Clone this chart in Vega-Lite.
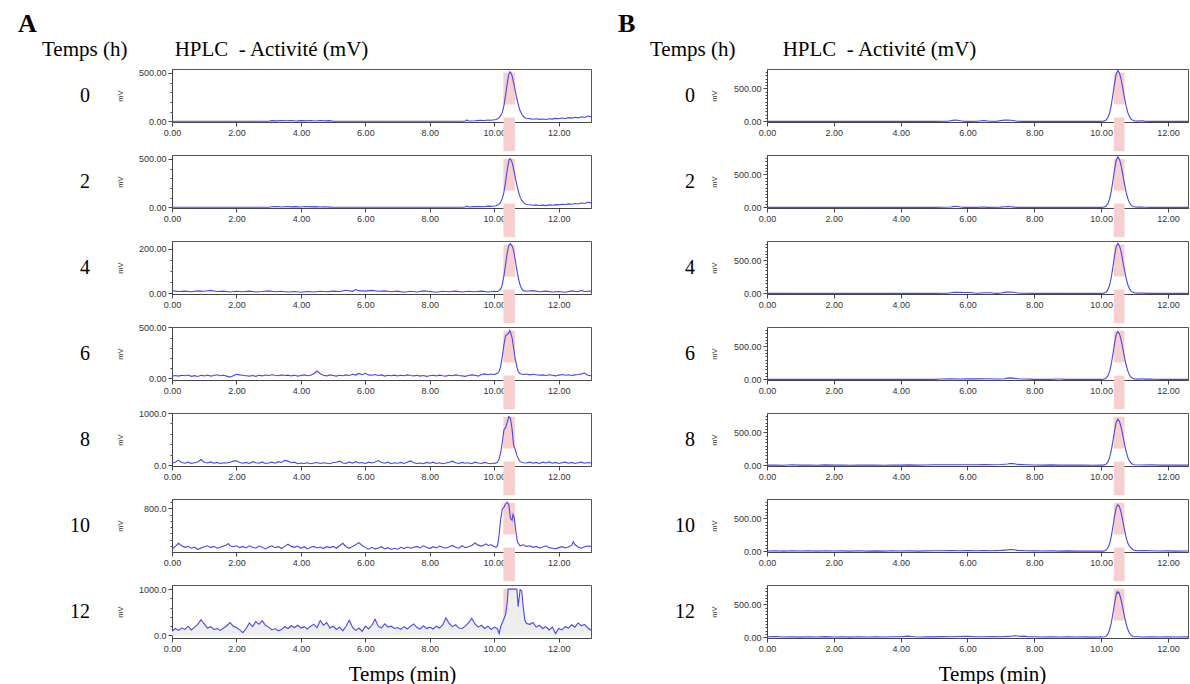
{
"$schema": "https://vega.github.io/schema/vega-lite/v6.json",
"background": "white",
"padding": {"left": 18, "top": 10, "right": 0, "bottom": 0},
"autosize": {"type": "pad"},
"config": {
 "view": {"stroke": "#555555", "strokeWidth": 1},
 "axis": {"labelFont": "Liberation Sans", "labelFontSize": 9, "labelColor": "#333333", "tickColor": "#444444", "domainColor": "#444444", "grid": false, "labelFlush": false, "labelBound": false, "labelPadding": 2, "titleFont": "Liberation Sans", "titleFontSize": 7.5, "titleFontWeight": "normal", "titleColor": "#333333"}
},
"datasets": {
 "bandA": [{"start": 10.28, "end": 10.64}],
 "bandB": [{"start": 10.38, "end": 10.70}],
 "A0": [{"t":0,"mv":0},{"t":0.5,"mv":0},{"t":1,"mv":0},{"t":1.5,"mv":0},{"t":2,"mv":0},{"t":2.5,"mv":0},{"t":3,"mv":0},{"t":3.1,"mv":7},{"t":3.25,"mv":5},{"t":3.4,"mv":9},{"t":3.55,"mv":6},{"t":3.7,"mv":8},{"t":3.85,"mv":3},{"t":4.0,"mv":7},{"t":4.15,"mv":5},{"t":4.3,"mv":9},{"t":4.45,"mv":4},{"t":4.6,"mv":8},{"t":4.75,"mv":5},{"t":4.9,"mv":7},{"t":5.0,"mv":1},{"t":5.5,"mv":0},{"t":6,"mv":0},{"t":6.5,"mv":0},{"t":7,"mv":0},{"t":7.5,"mv":0},{"t":8,"mv":0},{"t":8.5,"mv":0},{"t":9.0,"mv":0},{"t":9.1,"mv":3},{"t":9.15,"mv":14},{"t":9.2,"mv":4},{"t":9.4,"mv":6},{"t":9.55,"mv":10},{"t":9.7,"mv":8},{"t":9.8,"mv":14},{"t":9.9,"mv":11},{"t":10.0,"mv":16},{"t":10.05,"mv":18},{"t":10.1,"mv":26},{"t":10.15,"mv":38},{"t":10.2,"mv":58},{"t":10.25,"mv":95},{"t":10.3,"mv":165},{"t":10.35,"mv":270},{"t":10.4,"mv":390},{"t":10.45,"mv":485},{"t":10.48,"mv":512},{"t":10.52,"mv":498},{"t":10.56,"mv":460},{"t":10.6,"mv":400},{"t":10.65,"mv":315},{"t":10.7,"mv":235},{"t":10.75,"mv":165},{"t":10.8,"mv":110},{"t":10.85,"mv":75},{"t":10.9,"mv":52},{"t":10.95,"mv":38},{"t":11.0,"mv":32},{"t":11.1,"mv":28},{"t":11.2,"mv":22},{"t":11.3,"mv":26},{"t":11.4,"mv":20},{"t":11.5,"mv":24},{"t":11.6,"mv":19},{"t":11.7,"mv":26},{"t":11.8,"mv":23},{"t":11.9,"mv":30},{"t":12.0,"mv":26},{"t":12.1,"mv":34},{"t":12.2,"mv":30},{"t":12.3,"mv":38},{"t":12.4,"mv":33},{"t":12.5,"mv":42},{"t":12.6,"mv":36},{"t":12.7,"mv":47},{"t":12.8,"mv":40},{"t":12.9,"mv":54},{"t":13.0,"mv":48}],
 "A2": [{"t":0,"mv":0},{"t":0.5,"mv":0},{"t":1,"mv":0},{"t":1.5,"mv":0},{"t":2,"mv":0},{"t":2.5,"mv":0},{"t":3,"mv":0},{"t":3.1,"mv":6},{"t":3.25,"mv":8},{"t":3.4,"mv":4},{"t":3.55,"mv":9},{"t":3.7,"mv":5},{"t":3.85,"mv":7},{"t":4.0,"mv":3},{"t":4.15,"mv":8},{"t":4.3,"mv":5},{"t":4.45,"mv":7},{"t":4.6,"mv":3},{"t":4.75,"mv":6},{"t":4.9,"mv":2},{"t":5.0,"mv":0},{"t":5.5,"mv":0},{"t":6,"mv":0},{"t":6.5,"mv":0},{"t":7,"mv":0},{"t":7.5,"mv":0},{"t":8,"mv":0},{"t":8.5,"mv":0},{"t":9.0,"mv":0},{"t":9.1,"mv":4},{"t":9.15,"mv":12},{"t":9.2,"mv":3},{"t":9.4,"mv":7},{"t":9.55,"mv":9},{"t":9.7,"mv":6},{"t":9.8,"mv":12},{"t":9.9,"mv":10},{"t":10.0,"mv":14},{"t":10.05,"mv":17},{"t":10.1,"mv":24},{"t":10.15,"mv":35},{"t":10.2,"mv":55},{"t":10.25,"mv":92},{"t":10.3,"mv":160},{"t":10.35,"mv":265},{"t":10.4,"mv":385},{"t":10.45,"mv":480},{"t":10.48,"mv":506},{"t":10.52,"mv":492},{"t":10.56,"mv":455},{"t":10.6,"mv":395},{"t":10.65,"mv":310},{"t":10.7,"mv":230},{"t":10.75,"mv":160},{"t":10.8,"mv":108},{"t":10.85,"mv":72},{"t":10.9,"mv":50},{"t":10.95,"mv":36},{"t":11.0,"mv":30},{"t":11.1,"mv":26},{"t":11.2,"mv":21},{"t":11.3,"mv":25},{"t":11.4,"mv":19},{"t":11.5,"mv":23},{"t":11.6,"mv":18},{"t":11.7,"mv":25},{"t":11.8,"mv":22},{"t":11.9,"mv":28},{"t":12.0,"mv":25},{"t":12.1,"mv":32},{"t":12.2,"mv":29},{"t":12.3,"mv":36},{"t":12.4,"mv":32},{"t":12.5,"mv":40},{"t":12.6,"mv":35},{"t":12.7,"mv":45},{"t":12.8,"mv":39},{"t":12.9,"mv":52},{"t":13.0,"mv":46}],
 "A4": [{"t":0,"mv":12},{"t":0.2,"mv":8},{"t":0.4,"mv":10},{"t":0.6,"mv":7},{"t":0.8,"mv":11},{"t":1.0,"mv":9},{"t":1.2,"mv":13},{"t":1.4,"mv":8},{"t":1.6,"mv":10},{"t":1.8,"mv":6},{"t":2.0,"mv":9},{"t":2.2,"mv":7},{"t":2.4,"mv":10},{"t":2.6,"mv":6},{"t":2.8,"mv":8},{"t":3.0,"mv":11},{"t":3.2,"mv":7},{"t":3.4,"mv":9},{"t":3.6,"mv":6},{"t":3.8,"mv":8},{"t":4.0,"mv":5},{"t":4.2,"mv":8},{"t":4.4,"mv":6},{"t":4.6,"mv":9},{"t":4.8,"mv":7},{"t":5.0,"mv":10},{"t":5.2,"mv":8},{"t":5.4,"mv":14},{"t":5.6,"mv":9},{"t":5.7,"mv":17},{"t":5.8,"mv":12},{"t":6.0,"mv":10},{"t":6.2,"mv":13},{"t":6.4,"mv":9},{"t":6.6,"mv":11},{"t":6.8,"mv":7},{"t":7.0,"mv":10},{"t":7.2,"mv":5},{"t":7.4,"mv":9},{"t":7.6,"mv":6},{"t":7.8,"mv":11},{"t":8.0,"mv":8},{"t":8.2,"mv":5},{"t":8.4,"mv":9},{"t":8.6,"mv":7},{"t":8.8,"mv":10},{"t":9.0,"mv":6},{"t":9.2,"mv":9},{"t":9.4,"mv":7},{"t":9.6,"mv":10},{"t":9.8,"mv":6},{"t":10.0,"mv":9},{"t":10.1,"mv":8},{"t":10.15,"mv":12},{"t":10.2,"mv":20},{"t":10.25,"mv":40},{"t":10.3,"mv":80},{"t":10.35,"mv":130},{"t":10.4,"mv":180},{"t":10.45,"mv":215},{"t":10.5,"mv":222},{"t":10.55,"mv":212},{"t":10.6,"mv":190},{"t":10.65,"mv":150},{"t":10.7,"mv":105},{"t":10.75,"mv":65},{"t":10.8,"mv":38},{"t":10.85,"mv":20},{"t":10.9,"mv":12},{"t":11.0,"mv":9},{"t":11.2,"mv":12},{"t":11.4,"mv":7},{"t":11.6,"mv":10},{"t":11.8,"mv":6},{"t":12.0,"mv":8},{"t":12.2,"mv":5},{"t":12.4,"mv":11},{"t":12.6,"mv":7},{"t":12.7,"mv":13},{"t":12.8,"mv":8},{"t":13.0,"mv":10}],
 "A6": [{"t":0,"mv":20},{"t":0.1,"mv":28},{"t":0.2,"mv":22},{"t":0.3,"mv":30},{"t":0.4,"mv":25},{"t":0.5,"mv":33},{"t":0.6,"mv":20},{"t":0.7,"mv":27},{"t":0.8,"mv":18},{"t":0.9,"mv":30},{"t":1.0,"mv":24},{"t":1.1,"mv":32},{"t":1.2,"mv":22},{"t":1.3,"mv":28},{"t":1.4,"mv":35},{"t":1.5,"mv":26},{"t":1.6,"mv":30},{"t":1.7,"mv":22},{"t":1.8,"mv":12},{"t":1.9,"mv":25},{"t":2.0,"mv":40},{"t":2.1,"mv":34},{"t":2.2,"mv":30},{"t":2.3,"mv":26},{"t":2.4,"mv":22},{"t":2.5,"mv":28},{"t":2.6,"mv":20},{"t":2.7,"mv":30},{"t":2.8,"mv":24},{"t":2.9,"mv":33},{"t":3.0,"mv":28},{"t":3.1,"mv":36},{"t":3.2,"mv":30},{"t":3.3,"mv":26},{"t":3.4,"mv":34},{"t":3.5,"mv":28},{"t":3.6,"mv":32},{"t":3.7,"mv":24},{"t":3.8,"mv":30},{"t":3.9,"mv":22},{"t":4.0,"mv":28},{"t":4.1,"mv":34},{"t":4.2,"mv":26},{"t":4.3,"mv":30},{"t":4.4,"mv":45},{"t":4.5,"mv":72},{"t":4.6,"mv":45},{"t":4.7,"mv":30},{"t":4.8,"mv":24},{"t":4.9,"mv":34},{"t":5.0,"mv":28},{"t":5.1,"mv":22},{"t":5.2,"mv":30},{"t":5.3,"mv":26},{"t":5.4,"mv":34},{"t":5.5,"mv":28},{"t":5.6,"mv":40},{"t":5.7,"mv":32},{"t":5.8,"mv":48},{"t":5.9,"mv":36},{"t":6.0,"mv":50},{"t":6.1,"mv":34},{"t":6.2,"mv":30},{"t":6.3,"mv":38},{"t":6.4,"mv":28},{"t":6.5,"mv":34},{"t":6.6,"mv":22},{"t":6.7,"mv":30},{"t":6.8,"mv":26},{"t":6.9,"mv":32},{"t":7.0,"mv":24},{"t":7.1,"mv":30},{"t":7.2,"mv":26},{"t":7.3,"mv":34},{"t":7.4,"mv":28},{"t":7.5,"mv":24},{"t":7.6,"mv":30},{"t":7.7,"mv":22},{"t":7.8,"mv":28},{"t":7.9,"mv":20},{"t":8.0,"mv":26},{"t":8.1,"mv":30},{"t":8.2,"mv":24},{"t":8.3,"mv":32},{"t":8.4,"mv":26},{"t":8.5,"mv":22},{"t":8.6,"mv":30},{"t":8.7,"mv":26},{"t":8.8,"mv":34},{"t":8.9,"mv":28},{"t":9.0,"mv":24},{"t":9.1,"mv":20},{"t":9.2,"mv":28},{"t":9.3,"mv":34},{"t":9.4,"mv":30},{"t":9.5,"mv":22},{"t":9.6,"mv":38},{"t":9.7,"mv":44},{"t":9.8,"mv":36},{"t":9.9,"mv":42},{"t":10.0,"mv":38},{"t":10.05,"mv":44},{"t":10.1,"mv":50},{"t":10.15,"mv":70},{"t":10.2,"mv":120},{"t":10.25,"mv":220},{"t":10.3,"mv":330},{"t":10.35,"mv":420},{"t":10.4,"mv":430},{"t":10.45,"mv":445},{"t":10.48,"mv":470},{"t":10.5,"mv":455},{"t":10.55,"mv":400},{"t":10.6,"mv":300},{"t":10.65,"mv":190},{"t":10.7,"mv":110},{"t":10.75,"mv":60},{"t":10.8,"mv":45},{"t":10.9,"mv":38},{"t":11.0,"mv":42},{"t":11.1,"mv":34},{"t":11.2,"mv":40},{"t":11.3,"mv":36},{"t":11.4,"mv":30},{"t":11.5,"mv":34},{"t":11.6,"mv":28},{"t":11.7,"mv":36},{"t":11.8,"mv":30},{"t":11.9,"mv":24},{"t":12.0,"mv":32},{"t":12.1,"mv":38},{"t":12.2,"mv":30},{"t":12.3,"mv":36},{"t":12.4,"mv":28},{"t":12.5,"mv":34},{"t":12.6,"mv":38},{"t":12.7,"mv":44},{"t":12.8,"mv":52},{"t":12.9,"mv":30},{"t":13.0,"mv":26}],
 "A8": [{"t":0,"mv":45},{"t":0.1,"mv":60},{"t":0.2,"mv":100},{"t":0.3,"mv":55},{"t":0.4,"mv":40},{"t":0.5,"mv":60},{"t":0.6,"mv":35},{"t":0.7,"mv":50},{"t":0.8,"mv":65},{"t":0.9,"mv":110},{"t":1.0,"mv":60},{"t":1.1,"mv":45},{"t":1.2,"mv":65},{"t":1.3,"mv":40},{"t":1.4,"mv":55},{"t":1.5,"mv":35},{"t":1.6,"mv":50},{"t":1.7,"mv":45},{"t":1.8,"mv":60},{"t":1.9,"mv":80},{"t":2.0,"mv":85},{"t":2.1,"mv":55},{"t":2.2,"mv":40},{"t":2.3,"mv":55},{"t":2.4,"mv":35},{"t":2.5,"mv":70},{"t":2.6,"mv":50},{"t":2.7,"mv":40},{"t":2.8,"mv":65},{"t":2.9,"mv":35},{"t":3.0,"mv":45},{"t":3.1,"mv":60},{"t":3.2,"mv":40},{"t":3.3,"mv":70},{"t":3.4,"mv":55},{"t":3.5,"mv":95},{"t":3.6,"mv":80},{"t":3.7,"mv":50},{"t":3.8,"mv":60},{"t":3.9,"mv":30},{"t":4.0,"mv":45},{"t":4.1,"mv":35},{"t":4.2,"mv":50},{"t":4.3,"mv":30},{"t":4.4,"mv":45},{"t":4.5,"mv":55},{"t":4.6,"mv":35},{"t":4.7,"mv":50},{"t":4.8,"mv":40},{"t":4.9,"mv":30},{"t":5.0,"mv":55},{"t":5.1,"mv":60},{"t":5.2,"mv":80},{"t":5.3,"mv":45},{"t":5.4,"mv":35},{"t":5.5,"mv":65},{"t":5.6,"mv":40},{"t":5.7,"mv":70},{"t":5.8,"mv":45},{"t":5.9,"mv":55},{"t":6.0,"mv":35},{"t":6.1,"mv":60},{"t":6.2,"mv":45},{"t":6.3,"mv":65},{"t":6.4,"mv":90},{"t":6.5,"mv":55},{"t":6.6,"mv":40},{"t":6.7,"mv":60},{"t":6.8,"mv":30},{"t":6.9,"mv":50},{"t":7.0,"mv":40},{"t":7.1,"mv":55},{"t":7.2,"mv":35},{"t":7.3,"mv":60},{"t":7.4,"mv":85},{"t":7.5,"mv":50},{"t":7.6,"mv":35},{"t":7.7,"mv":45},{"t":7.8,"mv":30},{"t":7.9,"mv":55},{"t":8.0,"mv":40},{"t":8.1,"mv":60},{"t":8.2,"mv":35},{"t":8.3,"mv":50},{"t":8.4,"mv":30},{"t":8.5,"mv":45},{"t":8.6,"mv":60},{"t":8.7,"mv":80},{"t":8.8,"mv":50},{"t":8.9,"mv":35},{"t":9.0,"mv":55},{"t":9.1,"mv":40},{"t":9.2,"mv":50},{"t":9.3,"mv":30},{"t":9.4,"mv":60},{"t":9.5,"mv":45},{"t":9.6,"mv":35},{"t":9.7,"mv":55},{"t":9.8,"mv":40},{"t":9.9,"mv":30},{"t":10.0,"mv":45},{"t":10.05,"mv":40},{"t":10.1,"mv":60},{"t":10.15,"mv":120},{"t":10.2,"mv":250},{"t":10.25,"mv":450},{"t":10.3,"mv":680},{"t":10.35,"mv":720},{"t":10.4,"mv":820},{"t":10.45,"mv":930},{"t":10.5,"mv":900},{"t":10.55,"mv":700},{"t":10.6,"mv":380},{"t":10.65,"mv":300},{"t":10.7,"mv":190},{"t":10.75,"mv":120},{"t":10.8,"mv":70},{"t":10.9,"mv":50},{"t":11.0,"mv":45},{"t":11.1,"mv":60},{"t":11.2,"mv":40},{"t":11.3,"mv":55},{"t":11.4,"mv":35},{"t":11.5,"mv":60},{"t":11.6,"mv":45},{"t":11.7,"mv":65},{"t":11.8,"mv":40},{"t":11.9,"mv":55},{"t":12.0,"mv":35},{"t":12.1,"mv":50},{"t":12.2,"mv":60},{"t":12.3,"mv":40},{"t":12.4,"mv":55},{"t":12.5,"mv":35},{"t":12.6,"mv":50},{"t":12.7,"mv":60},{"t":12.8,"mv":40},{"t":12.9,"mv":55},{"t":13.0,"mv":45}],
 "A10": [{"t":0,"mv":140},{"t":0.1,"mv":190},{"t":0.2,"mv":240},{"t":0.3,"mv":200},{"t":0.4,"mv":175},{"t":0.5,"mv":190},{"t":0.6,"mv":160},{"t":0.7,"mv":180},{"t":0.8,"mv":140},{"t":0.9,"mv":165},{"t":1.0,"mv":185},{"t":1.1,"mv":200},{"t":1.2,"mv":170},{"t":1.3,"mv":190},{"t":1.4,"mv":160},{"t":1.5,"mv":175},{"t":1.6,"mv":195},{"t":1.7,"mv":215},{"t":1.75,"mv":235},{"t":1.8,"mv":200},{"t":1.9,"mv":185},{"t":2.0,"mv":200},{"t":2.1,"mv":170},{"t":2.2,"mv":190},{"t":2.3,"mv":165},{"t":2.4,"mv":200},{"t":2.5,"mv":175},{"t":2.6,"mv":160},{"t":2.7,"mv":195},{"t":2.8,"mv":175},{"t":2.9,"mv":150},{"t":3.0,"mv":180},{"t":3.1,"mv":200},{"t":3.2,"mv":170},{"t":3.3,"mv":185},{"t":3.4,"mv":160},{"t":3.5,"mv":190},{"t":3.6,"mv":225},{"t":3.7,"mv":190},{"t":3.8,"mv":175},{"t":3.9,"mv":195},{"t":4.0,"mv":160},{"t":4.1,"mv":185},{"t":4.2,"mv":150},{"t":4.3,"mv":175},{"t":4.4,"mv":190},{"t":4.5,"mv":165},{"t":4.6,"mv":180},{"t":4.7,"mv":155},{"t":4.8,"mv":185},{"t":4.9,"mv":170},{"t":5.0,"mv":190},{"t":5.1,"mv":160},{"t":5.2,"mv":200},{"t":5.3,"mv":240},{"t":5.4,"mv":185},{"t":5.5,"mv":160},{"t":5.6,"mv":190},{"t":5.7,"mv":215},{"t":5.8,"mv":250},{"t":5.9,"mv":205},{"t":6.0,"mv":170},{"t":6.1,"mv":145},{"t":6.2,"mv":175},{"t":6.3,"mv":150},{"t":6.4,"mv":165},{"t":6.5,"mv":185},{"t":6.6,"mv":150},{"t":6.7,"mv":170},{"t":6.8,"mv":140},{"t":6.9,"mv":160},{"t":7.0,"mv":145},{"t":7.1,"mv":175},{"t":7.2,"mv":155},{"t":7.3,"mv":180},{"t":7.4,"mv":160},{"t":7.5,"mv":175},{"t":7.6,"mv":190},{"t":7.7,"mv":165},{"t":7.8,"mv":200},{"t":7.9,"mv":175},{"t":8.0,"mv":155},{"t":8.1,"mv":185},{"t":8.2,"mv":165},{"t":8.3,"mv":195},{"t":8.4,"mv":175},{"t":8.5,"mv":160},{"t":8.6,"mv":185},{"t":8.7,"mv":205},{"t":8.8,"mv":175},{"t":8.9,"mv":160},{"t":9.0,"mv":200},{"t":9.1,"mv":170},{"t":9.2,"mv":185},{"t":9.3,"mv":205},{"t":9.4,"mv":245},{"t":9.5,"mv":210},{"t":9.6,"mv":195},{"t":9.7,"mv":215},{"t":9.75,"mv":230},{"t":9.8,"mv":205},{"t":9.9,"mv":215},{"t":10.0,"mv":190},{"t":10.05,"mv":175},{"t":10.1,"mv":200},{"t":10.15,"mv":380},{"t":10.2,"mv":640},{"t":10.25,"mv":790},{"t":10.3,"mv":820},{"t":10.35,"mv":870},{"t":10.4,"mv":900},{"t":10.45,"mv":860},{"t":10.5,"mv":640},{"t":10.55,"mv":610},{"t":10.58,"mv":700},{"t":10.62,"mv":650},{"t":10.67,"mv":420},{"t":10.72,"mv":260},{"t":10.8,"mv":200},{"t":10.9,"mv":215},{"t":11.0,"mv":190},{"t":11.1,"mv":200},{"t":11.2,"mv":175},{"t":11.3,"mv":190},{"t":11.4,"mv":165},{"t":11.5,"mv":180},{"t":11.6,"mv":200},{"t":11.7,"mv":170},{"t":11.8,"mv":160},{"t":11.9,"mv":150},{"t":12.0,"mv":170},{"t":12.1,"mv":185},{"t":12.2,"mv":165},{"t":12.3,"mv":180},{"t":12.4,"mv":210},{"t":12.45,"mv":265},{"t":12.5,"mv":220},{"t":12.6,"mv":180},{"t":12.7,"mv":160},{"t":12.8,"mv":185},{"t":12.9,"mv":195},{"t":13.0,"mv":190}],
 "A12": [{"t":0,"mv":90},{"t":0.1,"mv":150},{"t":0.2,"mv":110},{"t":0.3,"mv":160},{"t":0.4,"mv":130},{"t":0.5,"mv":200},{"t":0.6,"mv":120},{"t":0.7,"mv":180},{"t":0.8,"mv":240},{"t":0.9,"mv":340},{"t":1.0,"mv":250},{"t":1.1,"mv":160},{"t":1.2,"mv":190},{"t":1.3,"mv":130},{"t":1.4,"mv":150},{"t":1.5,"mv":110},{"t":1.6,"mv":160},{"t":1.7,"mv":210},{"t":1.8,"mv":280},{"t":1.9,"mv":200},{"t":2.0,"mv":170},{"t":2.1,"mv":120},{"t":2.2,"mv":60},{"t":2.3,"mv":150},{"t":2.4,"mv":270},{"t":2.5,"mv":190},{"t":2.6,"mv":300},{"t":2.7,"mv":240},{"t":2.8,"mv":320},{"t":2.9,"mv":220},{"t":3.0,"mv":180},{"t":3.1,"mv":120},{"t":3.2,"mv":150},{"t":3.3,"mv":100},{"t":3.4,"mv":130},{"t":3.5,"mv":190},{"t":3.6,"mv":150},{"t":3.7,"mv":210},{"t":3.8,"mv":170},{"t":3.9,"mv":220},{"t":4.0,"mv":160},{"t":4.1,"mv":190},{"t":4.2,"mv":140},{"t":4.3,"mv":200},{"t":4.4,"mv":240},{"t":4.5,"mv":170},{"t":4.6,"mv":320},{"t":4.7,"mv":220},{"t":4.8,"mv":280},{"t":4.9,"mv":160},{"t":5.0,"mv":200},{"t":5.1,"mv":130},{"t":5.2,"mv":180},{"t":5.3,"mv":100},{"t":5.4,"mv":200},{"t":5.5,"mv":330},{"t":5.6,"mv":180},{"t":5.7,"mv":110},{"t":5.8,"mv":160},{"t":5.9,"mv":90},{"t":6.0,"mv":200},{"t":6.1,"mv":140},{"t":6.2,"mv":220},{"t":6.3,"mv":350},{"t":6.4,"mv":200},{"t":6.5,"mv":160},{"t":6.6,"mv":250},{"t":6.7,"mv":180},{"t":6.8,"mv":200},{"t":6.9,"mv":150},{"t":7.0,"mv":170},{"t":7.1,"mv":130},{"t":7.2,"mv":190},{"t":7.3,"mv":140},{"t":7.4,"mv":200},{"t":7.5,"mv":250},{"t":7.6,"mv":170},{"t":7.7,"mv":140},{"t":7.8,"mv":210},{"t":7.9,"mv":150},{"t":8.0,"mv":180},{"t":8.1,"mv":140},{"t":8.2,"mv":200},{"t":8.3,"mv":160},{"t":8.4,"mv":230},{"t":8.5,"mv":380},{"t":8.6,"mv":260},{"t":8.7,"mv":190},{"t":8.8,"mv":230},{"t":8.9,"mv":160},{"t":9.0,"mv":150},{"t":9.1,"mv":200},{"t":9.2,"mv":270},{"t":9.3,"mv":370},{"t":9.4,"mv":250},{"t":9.5,"mv":180},{"t":9.6,"mv":220},{"t":9.7,"mv":150},{"t":9.8,"mv":200},{"t":9.9,"mv":130},{"t":10.0,"mv":180},{"t":10.1,"mv":140},{"t":10.15,"mv":40},{"t":10.2,"mv":200},{"t":10.25,"mv":280},{"t":10.3,"mv":360},{"t":10.35,"mv":450},{"t":10.4,"mv":700},{"t":10.43,"mv":1000},{"t":10.5,"mv":1000},{"t":10.6,"mv":1000},{"t":10.7,"mv":1000},{"t":10.74,"mv":620},{"t":10.8,"mv":990},{"t":10.85,"mv":960},{"t":10.9,"mv":600},{"t":10.95,"mv":320},{"t":11.0,"mv":260},{"t":11.1,"mv":240},{"t":11.2,"mv":280},{"t":11.3,"mv":180},{"t":11.4,"mv":220},{"t":11.5,"mv":150},{"t":11.6,"mv":190},{"t":11.7,"mv":120},{"t":11.8,"mv":180},{"t":11.9,"mv":40},{"t":12.0,"mv":150},{"t":12.1,"mv":120},{"t":12.2,"mv":190},{"t":12.3,"mv":160},{"t":12.4,"mv":230},{"t":12.5,"mv":180},{"t":12.6,"mv":270},{"t":12.7,"mv":210},{"t":12.8,"mv":240},{"t":12.9,"mv":160},{"t":13.0,"mv":120}],
 "B0": [{"t":0,"mv":0},{"t":1,"mv":0},{"t":2,"mv":0},{"t":3,"mv":0},{"t":4,"mv":0},{"t":5,"mv":0},{"t":5.4,"mv":1},{"t":5.5,"mv":10},{"t":5.6,"mv":18},{"t":5.7,"mv":16},{"t":5.8,"mv":8},{"t":5.9,"mv":2},{"t":6.0,"mv":0},{"t":6.3,"mv":1},{"t":6.4,"mv":8},{"t":6.5,"mv":12},{"t":6.6,"mv":6},{"t":6.7,"mv":1},{"t":6.9,"mv":3},{"t":7.0,"mv":12},{"t":7.1,"mv":18},{"t":7.2,"mv":20},{"t":7.3,"mv":17},{"t":7.4,"mv":10},{"t":7.5,"mv":2},{"t":7.6,"mv":0},{"t":8,"mv":0},{"t":9,"mv":0},{"t":10.0,"mv":0},{"t":10.05,"mv":2},{"t":10.1,"mv":7},{"t":10.15,"mv":21},{"t":10.2,"mv":54},{"t":10.25,"mv":121},{"t":10.3,"mv":236},{"t":10.35,"mv":396},{"t":10.4,"mv":573},{"t":10.45,"mv":715},{"t":10.5,"mv":770},{"t":10.55,"mv":733},{"t":10.6,"mv":634},{"t":10.65,"mv":496},{"t":10.7,"mv":353},{"t":10.75,"mv":227},{"t":10.8,"mv":132},{"t":10.85,"mv":70},{"t":10.9,"mv":34},{"t":10.95,"mv":15},{"t":11.0,"mv":6},{"t":11.1,"mv":4},{"t":11.2,"mv":8},{"t":11.3,"mv":3},{"t":11.4,"mv":0},{"t":12,"mv":0},{"t":12.6,"mv":0}],
 "B2": [{"t":0,"mv":0},{"t":1,"mv":0},{"t":2,"mv":0},{"t":3,"mv":0},{"t":4,"mv":0},{"t":5,"mv":0},{"t":5.5,"mv":6},{"t":5.6,"mv":14},{"t":5.7,"mv":12},{"t":5.8,"mv":4},{"t":5.9,"mv":0},{"t":6.3,"mv":0},{"t":6.4,"mv":6},{"t":6.5,"mv":4},{"t":6.6,"mv":0},{"t":7.0,"mv":4},{"t":7.1,"mv":10},{"t":7.2,"mv":12},{"t":7.3,"mv":9},{"t":7.4,"mv":3},{"t":7.5,"mv":0},{"t":8,"mv":0},{"t":9,"mv":0},{"t":10.0,"mv":0},{"t":10.05,"mv":2},{"t":10.1,"mv":7},{"t":10.15,"mv":21},{"t":10.2,"mv":54},{"t":10.25,"mv":120},{"t":10.3,"mv":234},{"t":10.35,"mv":393},{"t":10.4,"mv":569},{"t":10.45,"mv":711},{"t":10.5,"mv":765},{"t":10.55,"mv":728},{"t":10.6,"mv":630},{"t":10.65,"mv":493},{"t":10.7,"mv":350},{"t":10.75,"mv":226},{"t":10.8,"mv":132},{"t":10.85,"mv":70},{"t":10.9,"mv":34},{"t":10.95,"mv":15},{"t":11.0,"mv":6},{"t":11.1,"mv":3},{"t":11.2,"mv":5},{"t":11.3,"mv":1},{"t":11.5,"mv":0},{"t":12,"mv":0},{"t":12.6,"mv":0}],
 "B4": [{"t":0,"mv":0},{"t":1,"mv":0},{"t":2,"mv":0},{"t":3,"mv":0},{"t":4,"mv":0},{"t":5,"mv":0},{"t":5.4,"mv":1},{"t":5.5,"mv":10},{"t":5.6,"mv":15},{"t":5.7,"mv":14},{"t":5.9,"mv":12},{"t":6.1,"mv":13},{"t":6.2,"mv":6},{"t":6.3,"mv":2},{"t":6.5,"mv":9},{"t":6.6,"mv":10},{"t":6.7,"mv":8},{"t":6.8,"mv":2},{"t":6.9,"mv":0},{"t":7.0,"mv":6},{"t":7.1,"mv":15},{"t":7.2,"mv":19},{"t":7.3,"mv":20},{"t":7.4,"mv":16},{"t":7.5,"mv":6},{"t":7.6,"mv":1},{"t":8,"mv":0},{"t":9,"mv":0},{"t":10.0,"mv":0},{"t":10.05,"mv":2},{"t":10.1,"mv":7},{"t":10.15,"mv":21},{"t":10.2,"mv":53},{"t":10.25,"mv":119},{"t":10.3,"mv":233},{"t":10.35,"mv":391},{"t":10.4,"mv":565},{"t":10.45,"mv":706},{"t":10.5,"mv":760},{"t":10.55,"mv":724},{"t":10.6,"mv":625},{"t":10.65,"mv":489},{"t":10.7,"mv":348},{"t":10.75,"mv":224},{"t":10.8,"mv":131},{"t":10.85,"mv":69},{"t":10.9,"mv":33},{"t":10.95,"mv":15},{"t":11.0,"mv":6},{"t":11.1,"mv":4},{"t":11.2,"mv":5},{"t":11.3,"mv":4},{"t":11.4,"mv":0},{"t":12,"mv":0},{"t":12.6,"mv":0}],
 "B6": [{"t":0,"mv":0},{"t":1,"mv":0},{"t":2,"mv":0},{"t":3,"mv":0},{"t":4,"mv":0},{"t":5.0,"mv":0},{"t":5.2,"mv":6},{"t":5.5,"mv":7},{"t":5.8,"mv":5},{"t":6.0,"mv":8},{"t":6.3,"mv":7},{"t":6.6,"mv":8},{"t":6.9,"mv":6},{"t":7.1,"mv":10},{"t":7.2,"mv":18},{"t":7.3,"mv":22},{"t":7.4,"mv":15},{"t":7.5,"mv":8},{"t":7.7,"mv":5},{"t":7.9,"mv":3},{"t":8.0,"mv":0},{"t":8.5,"mv":0},{"t":8.7,"mv":6},{"t":8.8,"mv":5},{"t":8.9,"mv":0},{"t":9.5,"mv":0},{"t":10.0,"mv":0},{"t":10.05,"mv":2},{"t":10.1,"mv":7},{"t":10.15,"mv":20},{"t":10.2,"mv":51},{"t":10.25,"mv":114},{"t":10.3,"mv":222},{"t":10.35,"mv":373},{"t":10.4,"mv":539},{"t":10.45,"mv":674},{"t":10.5,"mv":725},{"t":10.55,"mv":690},{"t":10.6,"mv":597},{"t":10.65,"mv":467},{"t":10.7,"mv":332},{"t":10.75,"mv":214},{"t":10.8,"mv":125},{"t":10.85,"mv":66},{"t":10.9,"mv":32},{"t":10.95,"mv":15},{"t":11.0,"mv":6},{"t":11.1,"mv":3},{"t":11.2,"mv":8},{"t":11.3,"mv":4},{"t":11.5,"mv":5},{"t":11.6,"mv":2},{"t":11.8,"mv":0},{"t":12.6,"mv":0}],
 "B8": [{"t":0,"mv":3},{"t":0.25,"mv":6},{"t":0.5,"mv":2},{"t":0.75,"mv":8},{"t":1.0,"mv":3},{"t":1.25,"mv":5},{"t":1.5,"mv":1},{"t":1.75,"mv":7},{"t":2.0,"mv":3},{"t":2.25,"mv":5},{"t":2.5,"mv":2},{"t":2.75,"mv":6},{"t":3.0,"mv":3},{"t":3.25,"mv":4},{"t":3.5,"mv":1},{"t":3.75,"mv":5},{"t":4.0,"mv":3},{"t":4.25,"mv":7},{"t":4.5,"mv":4},{"t":4.75,"mv":6},{"t":5.0,"mv":10},{"t":5.25,"mv":9},{"t":5.5,"mv":10},{"t":5.75,"mv":8},{"t":6.0,"mv":10},{"t":6.25,"mv":9},{"t":6.5,"mv":11},{"t":6.75,"mv":10},{"t":7.0,"mv":12},{"t":7.2,"mv":20},{"t":7.3,"mv":30},{"t":7.4,"mv":25},{"t":7.5,"mv":14},{"t":7.75,"mv":10},{"t":8.0,"mv":6},{"t":8.25,"mv":4},{"t":8.5,"mv":7},{"t":8.75,"mv":3},{"t":9.0,"mv":6},{"t":9.25,"mv":3},{"t":9.5,"mv":5},{"t":9.75,"mv":2},{"t":10.0,"mv":4},{"t":10.05,"mv":3},{"t":10.1,"mv":6},{"t":10.15,"mv":19},{"t":10.2,"mv":49},{"t":10.25,"mv":110},{"t":10.3,"mv":214},{"t":10.35,"mv":360},{"t":10.4,"mv":521},{"t":10.45,"mv":650},{"t":10.5,"mv":700},{"t":10.55,"mv":666},{"t":10.6,"mv":576},{"t":10.65,"mv":451},{"t":10.7,"mv":321},{"t":10.75,"mv":207},{"t":10.8,"mv":120},{"t":10.85,"mv":64},{"t":10.9,"mv":31},{"t":10.95,"mv":14},{"t":11.0,"mv":8},{"t":11.25,"mv":6},{"t":11.5,"mv":8},{"t":11.75,"mv":4},{"t":12.0,"mv":6},{"t":12.25,"mv":3},{"t":12.5,"mv":5},{"t":12.6,"mv":4}],
 "B10": [{"t":0,"mv":6},{"t":0.25,"mv":9},{"t":0.5,"mv":4},{"t":0.75,"mv":10},{"t":1.0,"mv":5},{"t":1.25,"mv":8},{"t":1.5,"mv":3},{"t":1.75,"mv":9},{"t":2.0,"mv":5},{"t":2.25,"mv":7},{"t":2.5,"mv":3},{"t":2.75,"mv":8},{"t":3.0,"mv":4},{"t":3.25,"mv":7},{"t":3.5,"mv":3},{"t":3.75,"mv":9},{"t":4.0,"mv":5},{"t":4.25,"mv":8},{"t":4.5,"mv":4},{"t":4.75,"mv":7},{"t":5.0,"mv":10},{"t":5.25,"mv":8},{"t":5.5,"mv":13},{"t":5.75,"mv":9},{"t":6.0,"mv":12},{"t":6.25,"mv":8},{"t":6.5,"mv":11},{"t":6.75,"mv":9},{"t":7.0,"mv":14},{"t":7.2,"mv":22},{"t":7.3,"mv":28},{"t":7.4,"mv":24},{"t":7.5,"mv":15},{"t":7.75,"mv":10},{"t":8.0,"mv":7},{"t":8.25,"mv":5},{"t":8.5,"mv":8},{"t":8.75,"mv":4},{"t":9.0,"mv":7},{"t":9.25,"mv":3},{"t":9.5,"mv":6},{"t":9.75,"mv":3},{"t":10.0,"mv":5},{"t":10.05,"mv":4},{"t":10.1,"mv":6},{"t":10.15,"mv":19},{"t":10.2,"mv":50},{"t":10.25,"mv":111},{"t":10.3,"mv":217},{"t":10.35,"mv":365},{"t":10.4,"mv":528},{"t":10.45,"mv":660},{"t":10.5,"mv":710},{"t":10.55,"mv":676},{"t":10.6,"mv":584},{"t":10.65,"mv":457},{"t":10.7,"mv":325},{"t":10.75,"mv":209},{"t":10.8,"mv":122},{"t":10.85,"mv":80},{"t":10.9,"mv":48},{"t":10.95,"mv":28},{"t":11.0,"mv":14},{"t":11.1,"mv":10},{"t":11.25,"mv":12},{"t":11.5,"mv":8},{"t":11.75,"mv":5},{"t":12.0,"mv":7},{"t":12.25,"mv":4},{"t":12.6,"mv":6}],
 "B12": [{"t":0,"mv":8},{"t":0.25,"mv":12},{"t":0.5,"mv":5},{"t":0.75,"mv":10},{"t":1.0,"mv":4},{"t":1.25,"mv":9},{"t":1.5,"mv":6},{"t":1.75,"mv":11},{"t":2.0,"mv":5},{"t":2.25,"mv":9},{"t":2.5,"mv":4},{"t":2.75,"mv":8},{"t":3.0,"mv":5},{"t":3.25,"mv":10},{"t":3.5,"mv":6},{"t":3.75,"mv":9},{"t":4.0,"mv":8},{"t":4.2,"mv":18},{"t":4.4,"mv":10},{"t":4.6,"mv":6},{"t":4.8,"mv":9},{"t":5.0,"mv":7},{"t":5.25,"mv":11},{"t":5.5,"mv":8},{"t":5.75,"mv":13},{"t":6.0,"mv":15},{"t":6.25,"mv":10},{"t":6.5,"mv":8},{"t":6.75,"mv":12},{"t":7.0,"mv":10},{"t":7.25,"mv":14},{"t":7.4,"mv":25},{"t":7.5,"mv":20},{"t":7.6,"mv":14},{"t":7.7,"mv":18},{"t":7.8,"mv":10},{"t":8.0,"mv":8},{"t":8.25,"mv":5},{"t":8.5,"mv":9},{"t":8.75,"mv":6},{"t":9.0,"mv":8},{"t":9.25,"mv":5},{"t":9.5,"mv":7},{"t":9.75,"mv":4},{"t":10.0,"mv":8},{"t":10.05,"mv":6},{"t":10.1,"mv":8},{"t":10.15,"mv":18},{"t":10.2,"mv":48},{"t":10.25,"mv":108},{"t":10.3,"mv":210},{"t":10.35,"mv":352},{"t":10.4,"mv":510},{"t":10.45,"mv":650},{"t":10.48,"mv":690},{"t":10.5,"mv":670},{"t":10.53,"mv":688},{"t":10.55,"mv":660},{"t":10.6,"mv":564},{"t":10.65,"mv":441},{"t":10.7,"mv":314},{"t":10.75,"mv":202},{"t":10.8,"mv":118},{"t":10.85,"mv":62},{"t":10.9,"mv":30},{"t":10.95,"mv":14},{"t":11.0,"mv":8},{"t":11.1,"mv":8},{"t":11.25,"mv":6},{"t":11.5,"mv":9},{"t":11.75,"mv":5},{"t":12.0,"mv":8},{"t":12.25,"mv":5},{"t":12.6,"mv":7}]
},
"spacing": 595,
"bounds": "flush",
"hconcat": [
{
 "title": {"text": "A", "anchor": "start", "frame": "group", "dx": -154, "offset": 2, "font": "Liberation Serif", "fontSize": 26, "fontWeight": "bold", "color": "black"},
 "bounds": "flush",
 "vconcat": [
 {
 "title": {"text": "Temps (h)\u00a0\u00a0\u00a0\u00a0\u00a0\u00a0\u00a0\u00a0\u00a0HPLC\u00a0\u00a0- Activité (mV)", "anchor": "start", "frame": "group", "dx": -130, "offset": 8, "font": "Liberation Serif", "fontSize": 21, "fontWeight": "normal", "color": "black"},
 "spacing": 33,
 "bounds": "flush",
 "vconcat": [
  {"title": {"text": "0", "orient": "left", "angle": 0, "align": "left", "baseline": "middle", "anchor": "middle", "offset": 26, "font": "Liberation Serif", "fontSize": 20, "fontWeight": "normal", "color": "black"},
   "width": 419, "height": 53, "resolve": {"axis": {"y": "independent"}},
   "layer": [
    {"data": {"name": "bandA"}, "mark": {"type": "rect", "color": "#f8cfcf"}, "encoding": {"x": {"field": "start", "type": "quantitative", "scale": {"domain": [0, 13]}}, "x2": {"field": "end"}, "y": {"datum": 174, "type": "quantitative", "scale": {"domain": [-7, 541]}, "axis": {"orient": "left", "values": [100,200,300,400], "labels": false, "tickSize": 2, "domain": false, "title": null}}, "y2": {"datum": 503}}},
    {"data": {"name": "bandA"}, "mark": {"type": "rect", "color": "#f8cfcf"}, "encoding": {"x": {"field": "start", "type": "quantitative", "scale": {"domain": [0, 13]}}, "x2": {"field": "end"}, "y": {"datum": -308, "type": "quantitative", "scale": {"domain": [-7, 541]}, "axis": null}, "y2": {"datum": 40}}},
    {"data": {"name": "A0"}, "mark": {"type": "line", "color": "#4646f2", "strokeWidth": 1.1},
     "encoding": {"x": {"field": "t", "type": "quantitative", "scale": {"domain": [0, 13]}, "axis": {"title": null, "values": [0,0.5,1,1.5,2,2.5,3,3.5,4,4.5,5,5.5,6,6.5,7,7.5,8,8.5,9,9.5,10,10.5,11,11.5,12,12.5,13], "labelExpr": "datum.value % 2 === 0 ? format(datum.value, '.2f') : ''", "tickSize": {"condition": {"test": "datum.value % 2 === 0", "value": 4}, "value": 2}}},
      "y": {"field": "mv", "type": "quantitative", "scale": {"domain": [-7, 541]}, "axis": {"orient": "left", "title": "mV", "titleX": -48, "values": [0,500], "format": ".2f", "tickSize": 4}}}}
   ]},
  {"title": {"text": "2", "orient": "left", "angle": 0, "align": "left", "baseline": "middle", "anchor": "middle", "offset": 26, "font": "Liberation Serif", "fontSize": 20, "fontWeight": "normal", "color": "black"},
   "width": 419, "height": 53, "resolve": {"axis": {"y": "independent"}},
   "layer": [
    {"data": {"name": "bandA"}, "mark": {"type": "rect", "color": "#f8cfcf"}, "encoding": {"x": {"field": "start", "type": "quantitative", "scale": {"domain": [0, 13]}}, "x2": {"field": "end"}, "y": {"datum": 174, "type": "quantitative", "scale": {"domain": [-7, 541]}, "axis": {"orient": "left", "values": [100,200,300,400], "labels": false, "tickSize": 2, "domain": false, "title": null}}, "y2": {"datum": 503}}},
    {"data": {"name": "bandA"}, "mark": {"type": "rect", "color": "#f8cfcf"}, "encoding": {"x": {"field": "start", "type": "quantitative", "scale": {"domain": [0, 13]}}, "x2": {"field": "end"}, "y": {"datum": -308, "type": "quantitative", "scale": {"domain": [-7, 541]}, "axis": null}, "y2": {"datum": 40}}},
    {"data": {"name": "A2"}, "mark": {"type": "line", "color": "#4646f2", "strokeWidth": 1.1},
     "encoding": {"x": {"field": "t", "type": "quantitative", "scale": {"domain": [0, 13]}, "axis": {"title": null, "values": [0,0.5,1,1.5,2,2.5,3,3.5,4,4.5,5,5.5,6,6.5,7,7.5,8,8.5,9,9.5,10,10.5,11,11.5,12,12.5,13], "labelExpr": "datum.value % 2 === 0 ? format(datum.value, '.2f') : ''", "tickSize": {"condition": {"test": "datum.value % 2 === 0", "value": 4}, "value": 2}}},
      "y": {"field": "mv", "type": "quantitative", "scale": {"domain": [-7, 541]}, "axis": {"orient": "left", "title": "mV", "titleX": -48, "values": [0,500], "format": ".2f", "tickSize": 4}}}}
   ]},
  {"title": {"text": "4", "orient": "left", "angle": 0, "align": "left", "baseline": "middle", "anchor": "middle", "offset": 26, "font": "Liberation Serif", "fontSize": 20, "fontWeight": "normal", "color": "black"},
   "width": 419, "height": 53, "resolve": {"axis": {"y": "independent"}},
   "layer": [
    {"data": {"name": "bandA"}, "mark": {"type": "rect", "color": "#f8cfcf"}, "encoding": {"x": {"field": "start", "type": "quantitative", "scale": {"domain": [0, 13]}}, "x2": {"field": "end"}, "y": {"datum": 75, "type": "quantitative", "scale": {"domain": [-3, 234]}, "axis": {"orient": "left", "values": [50,100,150], "labels": false, "tickSize": 2, "domain": false, "title": null}}, "y2": {"datum": 217}}},
    {"data": {"name": "bandA"}, "mark": {"type": "rect", "color": "#f8cfcf"}, "encoding": {"x": {"field": "start", "type": "quantitative", "scale": {"domain": [0, 13]}}, "x2": {"field": "end"}, "y": {"datum": -133, "type": "quantitative", "scale": {"domain": [-3, 234]}, "axis": null}, "y2": {"datum": 17}}},
    {"data": {"name": "A4"}, "mark": {"type": "line", "color": "#4646f2", "strokeWidth": 1.1},
     "encoding": {"x": {"field": "t", "type": "quantitative", "scale": {"domain": [0, 13]}, "axis": {"title": null, "values": [0,0.5,1,1.5,2,2.5,3,3.5,4,4.5,5,5.5,6,6.5,7,7.5,8,8.5,9,9.5,10,10.5,11,11.5,12,12.5,13], "labelExpr": "datum.value % 2 === 0 ? format(datum.value, '.2f') : ''", "tickSize": {"condition": {"test": "datum.value % 2 === 0", "value": 4}, "value": 2}}},
      "y": {"field": "mv", "type": "quantitative", "scale": {"domain": [-3, 234]}, "axis": {"orient": "left", "title": "mV", "titleX": -48, "values": [0,200], "format": ".2f", "tickSize": 4}}}}
   ]},
  {"title": {"text": "6", "orient": "left", "angle": 0, "align": "left", "baseline": "middle", "anchor": "middle", "offset": 26, "font": "Liberation Serif", "fontSize": 20, "fontWeight": "normal", "color": "black"},
   "width": 419, "height": 53, "resolve": {"axis": {"y": "independent"}},
   "layer": [
    {"data": {"name": "bandA"}, "mark": {"type": "rect", "color": "#f8cfcf"}, "encoding": {"x": {"field": "start", "type": "quantitative", "scale": {"domain": [0, 13]}}, "x2": {"field": "end"}, "y": {"datum": 155, "type": "quantitative", "scale": {"domain": [-16, 503]}, "axis": {"orient": "left", "values": [100,200,300,400], "labels": false, "tickSize": 2, "domain": false, "title": null}}, "y2": {"datum": 467}}},
    {"data": {"name": "bandA"}, "mark": {"type": "rect", "color": "#f8cfcf"}, "encoding": {"x": {"field": "start", "type": "quantitative", "scale": {"domain": [0, 13]}}, "x2": {"field": "end"}, "y": {"datum": -301, "type": "quantitative", "scale": {"domain": [-16, 503]}, "axis": null}, "y2": {"datum": 28}}},
    {"data": {"name": "A6"}, "mark": {"type": "line", "color": "#4646f2", "strokeWidth": 1.1},
     "encoding": {"x": {"field": "t", "type": "quantitative", "scale": {"domain": [0, 13]}, "axis": {"title": null, "values": [0,0.5,1,1.5,2,2.5,3,3.5,4,4.5,5,5.5,6,6.5,7,7.5,8,8.5,9,9.5,10,10.5,11,11.5,12,12.5,13], "labelExpr": "datum.value % 2 === 0 ? format(datum.value, '.2f') : ''", "tickSize": {"condition": {"test": "datum.value % 2 === 0", "value": 4}, "value": 2}}},
      "y": {"field": "mv", "type": "quantitative", "scale": {"domain": [-16, 503]}, "axis": {"orient": "left", "title": "mV", "titleX": -48, "values": [0,500], "format": ".2f", "tickSize": 4}}}}
   ]},
  {"title": {"text": "8", "orient": "left", "angle": 0, "align": "left", "baseline": "middle", "anchor": "middle", "offset": 26, "font": "Liberation Serif", "fontSize": 20, "fontWeight": "normal", "color": "black"},
   "width": 419, "height": 53, "resolve": {"axis": {"y": "independent"}},
   "layer": [
    {"data": {"name": "bandA"}, "mark": {"type": "rect", "color": "#f8cfcf"}, "encoding": {"x": {"field": "start", "type": "quantitative", "scale": {"domain": [0, 13]}}, "x2": {"field": "end"}, "y": {"datum": 321, "type": "quantitative", "scale": {"domain": [-13, 1000]}, "axis": {"orient": "left", "values": [200,400,600,800], "labels": false, "tickSize": 2, "domain": false, "title": null}}, "y2": {"datum": 929}}},
    {"data": {"name": "bandA"}, "mark": {"type": "rect", "color": "#f8cfcf"}, "encoding": {"x": {"field": "start", "type": "quantitative", "scale": {"domain": [0, 13]}}, "x2": {"field": "end"}, "y": {"datum": -570, "type": "quantitative", "scale": {"domain": [-13, 1000]}, "axis": null}, "y2": {"datum": 73}}},
    {"data": {"name": "A8"}, "mark": {"type": "line", "color": "#4646f2", "strokeWidth": 1.1},
     "encoding": {"x": {"field": "t", "type": "quantitative", "scale": {"domain": [0, 13]}, "axis": {"title": null, "values": [0,0.5,1,1.5,2,2.5,3,3.5,4,4.5,5,5.5,6,6.5,7,7.5,8,8.5,9,9.5,10,10.5,11,11.5,12,12.5,13], "labelExpr": "datum.value % 2 === 0 ? format(datum.value, '.2f') : ''", "tickSize": {"condition": {"test": "datum.value % 2 === 0", "value": 4}, "value": 2}}},
      "y": {"field": "mv", "type": "quantitative", "scale": {"domain": [-13, 1000]}, "axis": {"orient": "left", "title": "mV", "titleX": -48, "values": [0,1000], "format": ".1f", "tickSize": 4}}}}
   ]},
  {"title": {"text": "10", "orient": "left", "angle": 0, "align": "left", "baseline": "middle", "anchor": "middle", "offset": 26, "font": "Liberation Serif", "fontSize": 20, "fontWeight": "normal", "color": "black"},
   "width": 419, "height": 53, "resolve": {"axis": {"y": "independent"}},
   "layer": [
    {"data": {"name": "bandA"}, "mark": {"type": "rect", "color": "#f8cfcf"}, "encoding": {"x": {"field": "start", "type": "quantitative", "scale": {"domain": [0, 13]}}, "x2": {"field": "end"}, "y": {"datum": 380, "type": "quantitative", "scale": {"domain": [100, 950]}, "axis": {"orient": "left", "values": [200,300,400,500,600,700,900], "labels": false, "tickSize": 2, "domain": false, "title": null}}, "y2": {"datum": 890}}},
    {"data": {"name": "bandA"}, "mark": {"type": "rect", "color": "#f8cfcf"}, "encoding": {"x": {"field": "start", "type": "quantitative", "scale": {"domain": [0, 13]}}, "x2": {"field": "end"}, "y": {"datum": -367, "type": "quantitative", "scale": {"domain": [100, 950]}, "axis": null}, "y2": {"datum": 172}}},
    {"data": {"name": "A10"}, "mark": {"type": "line", "color": "#4646f2", "strokeWidth": 1.1},
     "encoding": {"x": {"field": "t", "type": "quantitative", "scale": {"domain": [0, 13]}, "axis": {"title": null, "values": [0,0.5,1,1.5,2,2.5,3,3.5,4,4.5,5,5.5,6,6.5,7,7.5,8,8.5,9,9.5,10,10.5,11,11.5,12,12.5,13], "labelExpr": "datum.value % 2 === 0 ? format(datum.value, '.2f') : ''", "tickSize": {"condition": {"test": "datum.value % 2 === 0", "value": 4}, "value": 2}}},
      "y": {"field": "mv", "type": "quantitative", "scale": {"domain": [100, 950]}, "axis": {"orient": "left", "title": "mV", "titleX": -48, "values": [800], "format": ".1f", "tickSize": 4}}}}
   ]},
  {"title": {"text": "12", "orient": "left", "angle": 0, "align": "left", "baseline": "middle", "anchor": "middle", "offset": 26, "font": "Liberation Serif", "fontSize": 20, "fontWeight": "normal", "color": "black"},
   "width": 419, "height": 53, "resolve": {"axis": {"y": "independent"}},
   "layer": [
    {"data": {"name": "bandA"}, "mark": {"type": "rect", "color": "#f8cfcf"}, "encoding": {"x": {"field": "start", "type": "quantitative", "scale": {"domain": [0, 13]}}, "x2": {"field": "end"}, "y": {"datum": 323, "type": "quantitative", "scale": {"domain": [-55, 1090]}, "axis": {"orient": "left", "values": [200,400,600,800], "labels": false, "tickSize": 2, "domain": false, "title": null}}, "y2": {"datum": 1010}}},
    {"data": {"name": "A12"}, "mark": {"type": "area", "color": "#eeeeee"}, "encoding": {"x": {"field": "t", "type": "quantitative", "scale": {"domain": [0, 13]}}, "y": {"field": "mv", "type": "quantitative", "scale": {"domain": [-55, 1090]}, "axis": null}}},
    {"data": {"name": "A12"}, "mark": {"type": "line", "color": "#4646f2", "strokeWidth": 1.1},
     "encoding": {"x": {"field": "t", "type": "quantitative", "scale": {"domain": [0, 13]}, "axis": {"title": "Temps (min)", "titleFont": "Liberation Serif", "titleFontSize": 21, "titleColor": "black", "titlePadding": 10, "titleX": 230, "values": [0,0.5,1,1.5,2,2.5,3,3.5,4,4.5,5,5.5,6,6.5,7,7.5,8,8.5,9,9.5,10,10.5,11,11.5,12,12.5,13], "labelExpr": "datum.value % 2 === 0 ? format(datum.value, '.2f') : ''", "tickSize": {"condition": {"test": "datum.value % 2 === 0", "value": 4}, "value": 2}}},
      "y": {"field": "mv", "type": "quantitative", "scale": {"domain": [-55, 1090]}, "axis": {"orient": "left", "title": "mV", "titleX": -48, "values": [0,1000], "format": ".1f", "tickSize": 4}}}}
   ]}
 ]
 }
 ]
},
{
 "title": {"text": "B", "anchor": "start", "frame": "group", "dx": -149, "offset": 2, "font": "Liberation Serif", "fontSize": 26, "fontWeight": "bold", "color": "black"},
 "bounds": "flush",
 "vconcat": [
 {
 "title": {"text": "Temps (h)\u00a0\u00a0\u00a0\u00a0\u00a0\u00a0\u00a0\u00a0\u00a0HPLC\u00a0\u00a0- Activité (mV)", "anchor": "start", "frame": "group", "dx": -117, "offset": 8, "font": "Liberation Serif", "fontSize": 21, "fontWeight": "normal", "color": "black"},
 "spacing": 33,
 "bounds": "flush",
 "vconcat": [
  {"title": {"text": "0", "orient": "left", "angle": 0, "align": "left", "baseline": "middle", "anchor": "middle", "offset": 15, "font": "Liberation Serif", "fontSize": 20, "fontWeight": "normal", "color": "black"},
   "width": 421, "height": 53, "resolve": {"axis": {"y": "independent"}},
   "layer": [
    {"data": {"name": "bandB"}, "mark": {"type": "rect", "color": "#f8cfcf"}, "encoding": {"x": {"field": "start", "type": "quantitative", "scale": {"domain": [0, 12.6]}}, "x2": {"field": "end"}, "y": {"datum": 256, "type": "quantitative", "scale": {"domain": [-10, 795]}, "axis": {"orient": "left", "values": [50,100,150,200,250,300,350,400,450,550,600,650,700,750], "labels": false, "tickSize": 2, "domain": false, "title": null}}, "y2": {"datum": 739}}},
    {"data": {"name": "bandB"}, "mark": {"type": "rect", "color": "#f8cfcf"}, "encoding": {"x": {"field": "start", "type": "quantitative", "scale": {"domain": [0, 12.6]}}, "x2": {"field": "end"}, "y": {"datum": -453, "type": "quantitative", "scale": {"domain": [-10, 795]}, "axis": null}, "y2": {"datum": 58}}},
    {"data": {"name": "B0"}, "mark": {"type": "line", "color": "#4646f2", "strokeWidth": 1.1},
     "encoding": {"x": {"field": "t", "type": "quantitative", "scale": {"domain": [0, 12.6]}, "axis": {"title": null, "values": [0,0.5,1,1.5,2,2.5,3,3.5,4,4.5,5,5.5,6,6.5,7,7.5,8,8.5,9,9.5,10,10.5,11,11.5,12,12.5], "labelExpr": "datum.value % 2 === 0 ? format(datum.value, '.2f') : ''", "tickSize": {"condition": {"test": "datum.value % 2 === 0", "value": 4}, "value": 2}}},
      "y": {"field": "mv", "type": "quantitative", "scale": {"domain": [-10, 795]}, "axis": {"orient": "left", "title": "mV", "titleX": -49, "values": [0,500], "format": ".2f", "tickSize": 4}}}}
   ]},
  {"title": {"text": "2", "orient": "left", "angle": 0, "align": "left", "baseline": "middle", "anchor": "middle", "offset": 15, "font": "Liberation Serif", "fontSize": 20, "fontWeight": "normal", "color": "black"},
   "width": 421, "height": 53, "resolve": {"axis": {"y": "independent"}},
   "layer": [
    {"data": {"name": "bandB"}, "mark": {"type": "rect", "color": "#f8cfcf"}, "encoding": {"x": {"field": "start", "type": "quantitative", "scale": {"domain": [0, 12.6]}}, "x2": {"field": "end"}, "y": {"datum": 256, "type": "quantitative", "scale": {"domain": [-10, 795]}, "axis": {"orient": "left", "values": [50,100,150,200,250,300,350,400,450,550,600,650,700,750], "labels": false, "tickSize": 2, "domain": false, "title": null}}, "y2": {"datum": 739}}},
    {"data": {"name": "bandB"}, "mark": {"type": "rect", "color": "#f8cfcf"}, "encoding": {"x": {"field": "start", "type": "quantitative", "scale": {"domain": [0, 12.6]}}, "x2": {"field": "end"}, "y": {"datum": -453, "type": "quantitative", "scale": {"domain": [-10, 795]}, "axis": null}, "y2": {"datum": 58}}},
    {"data": {"name": "B2"}, "mark": {"type": "line", "color": "#4646f2", "strokeWidth": 1.1},
     "encoding": {"x": {"field": "t", "type": "quantitative", "scale": {"domain": [0, 12.6]}, "axis": {"title": null, "values": [0,0.5,1,1.5,2,2.5,3,3.5,4,4.5,5,5.5,6,6.5,7,7.5,8,8.5,9,9.5,10,10.5,11,11.5,12,12.5], "labelExpr": "datum.value % 2 === 0 ? format(datum.value, '.2f') : ''", "tickSize": {"condition": {"test": "datum.value % 2 === 0", "value": 4}, "value": 2}}},
      "y": {"field": "mv", "type": "quantitative", "scale": {"domain": [-10, 795]}, "axis": {"orient": "left", "title": "mV", "titleX": -49, "values": [0,500], "format": ".2f", "tickSize": 4}}}}
   ]},
  {"title": {"text": "4", "orient": "left", "angle": 0, "align": "left", "baseline": "middle", "anchor": "middle", "offset": 15, "font": "Liberation Serif", "fontSize": 20, "fontWeight": "normal", "color": "black"},
   "width": 421, "height": 53, "resolve": {"axis": {"y": "independent"}},
   "layer": [
    {"data": {"name": "bandB"}, "mark": {"type": "rect", "color": "#f8cfcf"}, "encoding": {"x": {"field": "start", "type": "quantitative", "scale": {"domain": [0, 12.6]}}, "x2": {"field": "end"}, "y": {"datum": 256, "type": "quantitative", "scale": {"domain": [-10, 795]}, "axis": {"orient": "left", "values": [50,100,150,200,250,300,350,400,450,550,600,650,700,750], "labels": false, "tickSize": 2, "domain": false, "title": null}}, "y2": {"datum": 739}}},
    {"data": {"name": "bandB"}, "mark": {"type": "rect", "color": "#f8cfcf"}, "encoding": {"x": {"field": "start", "type": "quantitative", "scale": {"domain": [0, 12.6]}}, "x2": {"field": "end"}, "y": {"datum": -453, "type": "quantitative", "scale": {"domain": [-10, 795]}, "axis": null}, "y2": {"datum": 58}}},
    {"data": {"name": "B4"}, "mark": {"type": "line", "color": "#4646f2", "strokeWidth": 1.1},
     "encoding": {"x": {"field": "t", "type": "quantitative", "scale": {"domain": [0, 12.6]}, "axis": {"title": null, "values": [0,0.5,1,1.5,2,2.5,3,3.5,4,4.5,5,5.5,6,6.5,7,7.5,8,8.5,9,9.5,10,10.5,11,11.5,12,12.5], "labelExpr": "datum.value % 2 === 0 ? format(datum.value, '.2f') : ''", "tickSize": {"condition": {"test": "datum.value % 2 === 0", "value": 4}, "value": 2}}},
      "y": {"field": "mv", "type": "quantitative", "scale": {"domain": [-10, 795]}, "axis": {"orient": "left", "title": "mV", "titleX": -49, "values": [0,500], "format": ".2f", "tickSize": 4}}}}
   ]},
  {"title": {"text": "6", "orient": "left", "angle": 0, "align": "left", "baseline": "middle", "anchor": "middle", "offset": 15, "font": "Liberation Serif", "fontSize": 20, "fontWeight": "normal", "color": "black"},
   "width": 421, "height": 53, "resolve": {"axis": {"y": "independent"}},
   "layer": [
    {"data": {"name": "bandB"}, "mark": {"type": "rect", "color": "#f8cfcf"}, "encoding": {"x": {"field": "start", "type": "quantitative", "scale": {"domain": [0, 12.6]}}, "x2": {"field": "end"}, "y": {"datum": 256, "type": "quantitative", "scale": {"domain": [-10, 795]}, "axis": {"orient": "left", "values": [50,100,150,200,250,300,350,400,450,550,600,650,700,750], "labels": false, "tickSize": 2, "domain": false, "title": null}}, "y2": {"datum": 739}}},
    {"data": {"name": "bandB"}, "mark": {"type": "rect", "color": "#f8cfcf"}, "encoding": {"x": {"field": "start", "type": "quantitative", "scale": {"domain": [0, 12.6]}}, "x2": {"field": "end"}, "y": {"datum": -453, "type": "quantitative", "scale": {"domain": [-10, 795]}, "axis": null}, "y2": {"datum": 58}}},
    {"data": {"name": "B6"}, "mark": {"type": "line", "color": "#4646f2", "strokeWidth": 1.1},
     "encoding": {"x": {"field": "t", "type": "quantitative", "scale": {"domain": [0, 12.6]}, "axis": {"title": null, "values": [0,0.5,1,1.5,2,2.5,3,3.5,4,4.5,5,5.5,6,6.5,7,7.5,8,8.5,9,9.5,10,10.5,11,11.5,12,12.5], "labelExpr": "datum.value % 2 === 0 ? format(datum.value, '.2f') : ''", "tickSize": {"condition": {"test": "datum.value % 2 === 0", "value": 4}, "value": 2}}},
      "y": {"field": "mv", "type": "quantitative", "scale": {"domain": [-10, 795]}, "axis": {"orient": "left", "title": "mV", "titleX": -49, "values": [0,500], "format": ".2f", "tickSize": 4}}}}
   ]},
  {"title": {"text": "8", "orient": "left", "angle": 0, "align": "left", "baseline": "middle", "anchor": "middle", "offset": 15, "font": "Liberation Serif", "fontSize": 20, "fontWeight": "normal", "color": "black"},
   "width": 421, "height": 53, "resolve": {"axis": {"y": "independent"}},
   "layer": [
    {"data": {"name": "bandB"}, "mark": {"type": "rect", "color": "#f8cfcf"}, "encoding": {"x": {"field": "start", "type": "quantitative", "scale": {"domain": [0, 12.6]}}, "x2": {"field": "end"}, "y": {"datum": 256, "type": "quantitative", "scale": {"domain": [-10, 795]}, "axis": {"orient": "left", "values": [50,100,150,200,250,300,350,400,450,550,600,650,700,750], "labels": false, "tickSize": 2, "domain": false, "title": null}}, "y2": {"datum": 739}}},
    {"data": {"name": "bandB"}, "mark": {"type": "rect", "color": "#f8cfcf"}, "encoding": {"x": {"field": "start", "type": "quantitative", "scale": {"domain": [0, 12.6]}}, "x2": {"field": "end"}, "y": {"datum": -453, "type": "quantitative", "scale": {"domain": [-10, 795]}, "axis": null}, "y2": {"datum": 58}}},
    {"data": {"name": "B8"}, "mark": {"type": "line", "color": "#4646f2", "strokeWidth": 1.1},
     "encoding": {"x": {"field": "t", "type": "quantitative", "scale": {"domain": [0, 12.6]}, "axis": {"title": null, "values": [0,0.5,1,1.5,2,2.5,3,3.5,4,4.5,5,5.5,6,6.5,7,7.5,8,8.5,9,9.5,10,10.5,11,11.5,12,12.5], "labelExpr": "datum.value % 2 === 0 ? format(datum.value, '.2f') : ''", "tickSize": {"condition": {"test": "datum.value % 2 === 0", "value": 4}, "value": 2}}},
      "y": {"field": "mv", "type": "quantitative", "scale": {"domain": [-10, 795]}, "axis": {"orient": "left", "title": "mV", "titleX": -49, "values": [0,500], "format": ".2f", "tickSize": 4}}}}
   ]},
  {"title": {"text": "10", "orient": "left", "angle": 0, "align": "left", "baseline": "middle", "anchor": "middle", "offset": 15, "font": "Liberation Serif", "fontSize": 20, "fontWeight": "normal", "color": "black"},
   "width": 421, "height": 53, "resolve": {"axis": {"y": "independent"}},
   "layer": [
    {"data": {"name": "bandB"}, "mark": {"type": "rect", "color": "#f8cfcf"}, "encoding": {"x": {"field": "start", "type": "quantitative", "scale": {"domain": [0, 12.6]}}, "x2": {"field": "end"}, "y": {"datum": 256, "type": "quantitative", "scale": {"domain": [-10, 795]}, "axis": {"orient": "left", "values": [50,100,150,200,250,300,350,400,450,550,600,650,700,750], "labels": false, "tickSize": 2, "domain": false, "title": null}}, "y2": {"datum": 739}}},
    {"data": {"name": "bandB"}, "mark": {"type": "rect", "color": "#f8cfcf"}, "encoding": {"x": {"field": "start", "type": "quantitative", "scale": {"domain": [0, 12.6]}}, "x2": {"field": "end"}, "y": {"datum": -453, "type": "quantitative", "scale": {"domain": [-10, 795]}, "axis": null}, "y2": {"datum": 58}}},
    {"data": {"name": "B10"}, "mark": {"type": "line", "color": "#4646f2", "strokeWidth": 1.1},
     "encoding": {"x": {"field": "t", "type": "quantitative", "scale": {"domain": [0, 12.6]}, "axis": {"title": null, "values": [0,0.5,1,1.5,2,2.5,3,3.5,4,4.5,5,5.5,6,6.5,7,7.5,8,8.5,9,9.5,10,10.5,11,11.5,12,12.5], "labelExpr": "datum.value % 2 === 0 ? format(datum.value, '.2f') : ''", "tickSize": {"condition": {"test": "datum.value % 2 === 0", "value": 4}, "value": 2}}},
      "y": {"field": "mv", "type": "quantitative", "scale": {"domain": [-10, 795]}, "axis": {"orient": "left", "title": "mV", "titleX": -49, "values": [0,500], "format": ".2f", "tickSize": 4}}}}
   ]},
  {"title": {"text": "12", "orient": "left", "angle": 0, "align": "left", "baseline": "middle", "anchor": "middle", "offset": 15, "font": "Liberation Serif", "fontSize": 20, "fontWeight": "normal", "color": "black"},
   "width": 421, "height": 53, "resolve": {"axis": {"y": "independent"}},
   "layer": [
    {"data": {"name": "bandB"}, "mark": {"type": "rect", "color": "#f8cfcf"}, "encoding": {"x": {"field": "start", "type": "quantitative", "scale": {"domain": [0, 12.6]}}, "x2": {"field": "end"}, "y": {"datum": 256, "type": "quantitative", "scale": {"domain": [-10, 795]}, "axis": {"orient": "left", "values": [50,100,150,200,250,300,350,400,450,550,600,650,700,750], "labels": false, "tickSize": 2, "domain": false, "title": null}}, "y2": {"datum": 739}}},
    {"data": {"name": "B12"}, "mark": {"type": "line", "color": "#4646f2", "strokeWidth": 1.1},
     "encoding": {"x": {"field": "t", "type": "quantitative", "scale": {"domain": [0, 12.6]}, "axis": {"title": "Temps (min)", "titleFont": "Liberation Serif", "titleFontSize": 21, "titleColor": "black", "titlePadding": 10, "titleX": 225, "values": [0,0.5,1,1.5,2,2.5,3,3.5,4,4.5,5,5.5,6,6.5,7,7.5,8,8.5,9,9.5,10,10.5,11,11.5,12,12.5], "labelExpr": "datum.value % 2 === 0 ? format(datum.value, '.2f') : ''", "tickSize": {"condition": {"test": "datum.value % 2 === 0", "value": 4}, "value": 2}}},
      "y": {"field": "mv", "type": "quantitative", "scale": {"domain": [-10, 795]}, "axis": {"orient": "left", "title": "mV", "titleX": -49, "values": [0,500], "format": ".2f", "tickSize": 4}}}}
   ]}
 ]
 }
 ]
}
]
}
